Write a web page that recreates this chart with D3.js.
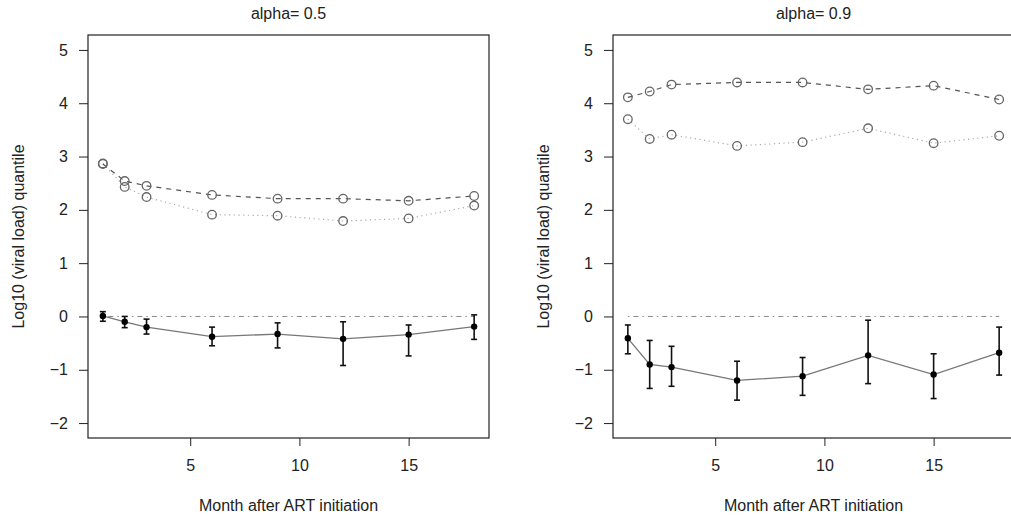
<!DOCTYPE html>
<html>
<head>
<meta charset="utf-8">
<script src="https://cdn.jsdelivr.net/npm/d3@7"></script>
<style>
  body { margin: 0; background: #fff; }
  text { font-family: "Liberation Sans", Arial, sans-serif; }
</style>
</head>
<body>
<div id="chart"></div>
<script>
// months after ART initiation
var months = [1, 2, 3, 6, 9, 12, 15, 18];
var xTicks = [5, 10, 15];
var yTicks = [-2, -1, 0, 1, 2, 3, 4, 5];
var titles = ["alpha= 0.5", "alpha= 0.9"];

// alpha = 0.5
var a5Dashed = [2.86, 2.54, 2.45, 2.28, 2.21, 2.21, 2.17, 2.26];
var a5Dotted = [2.87, 2.43, 2.24, 1.91, 1.89, 1.79, 1.84, 2.08];
var a5Est = [0.01, -0.10, -0.20, -0.38, -0.33, -0.42, -0.34, -0.19];
var a5Lo = [-0.09, -0.21, -0.33, -0.55, -0.59, -0.92, -0.74, -0.43];
var a5Hi = [0.09, 0.00, -0.05, -0.20, -0.12, -0.10, -0.16, 0.03];

// alpha = 0.9
var a9Dashed = [4.11, 4.22, 4.35, 4.39, 4.39, 4.26, 4.33, 4.07];
var a9Dotted = [3.70, 3.33, 3.41, 3.20, 3.27, 3.53, 3.25, 3.39];
var a9Est = [-0.41, -0.90, -0.95, -1.20, -1.12, -0.73, -1.09, -0.68];
var a9Lo = [-0.70, -1.35, -1.31, -1.57, -1.48, -1.26, -1.54, -1.10];
var a9Hi = [-0.16, -0.45, -0.56, -0.84, -0.77, -0.07, -0.70, -0.20];

var panels = [
    {title: titles[0], dashed: a5Dashed, dotted: a5Dotted, est: a5Est, lo: a5Lo, hi: a5Hi},
    {title: titles[1], dashed: a9Dashed, dotted: a9Dotted, est: a9Est, lo: a9Lo, hi: a9Hi}
];

var W = 1011, H = 523;
var plotW = 401, plotH = 403;
var plotTop = 35;
var lefts = [88, 613];

var svg = d3.select("#chart")
    .append("svg")
    .attr("width", W)
    .attr("height", H);

// x range padded like R (4% each side)
var x = d3.scaleLinear()
    .domain([1 - 0.68, 18 + 0.68])
    .range([0, plotW]);
var y = d3.scaleLinear()
    .domain([-2 - 0.28, 5 + 0.28])
    .range([plotH, 0]);

panels.forEach(function(p, i) {
    var g = svg.append("g")
        .attr("transform", "translate(" + lefts[i] + "," + plotTop + ")");

    var pts = months.map(function(m, j) {
        return {m: m, dashed: p.dashed[j], dotted: p.dotted[j], est: p.est[j], lo: p.lo[j], hi: p.hi[j]};
    });

    // x axis
    var xa = g.append("g")
        .attr("transform", "translate(0," + plotH + ")")
        .call(d3.axisBottom(x).tickValues(xTicks).tickSize(8).tickPadding(14).tickFormat(d3.format("d")));
    xa.select(".domain").remove();

    // y axis
    var ya = g.append("g")
        .call(d3.axisLeft(y).tickValues(yTicks).tickSize(9).tickPadding(11).tickFormat(d3.format("d")));
    ya.select(".domain").remove();

    g.selectAll(".tick line").attr("stroke", "#222");
    g.selectAll(".tick text")
        .attr("font-size", 16)
        .attr("fill", "#222")
        .style("font-family", "'Liberation Sans', Arial, sans-serif");
    xa.selectAll(".tick text").attr("dy", "0.71em");

    // box
    g.append("rect")
        .attr("x", 0).attr("y", 0)
        .attr("width", plotW).attr("height", plotH)
        .attr("fill", "none")
        .attr("stroke", "#222")
        .attr("stroke-width", 1.2);

    // reference line at zero
    g.append("line")
        .attr("x1", x(months[0])).attr("x2", x(months[months.length - 1]))
        .attr("y1", y(0)).attr("y2", y(0))
        .attr("stroke", "#888")
        .attr("stroke-width", 1)
        .attr("stroke-dasharray", "1.5,4,5,4");

    // dotted quantile line
    g.append("path")
        .datum(pts)
        .attr("d", d3.line().x(d => x(d.m)).y(d => y(d.dotted)))
        .attr("fill", "none")
        .attr("stroke", "#aaa")
        .attr("stroke-width", 1.2)
        .attr("stroke-dasharray", "1.2,3.5");

    // dashed quantile line
    g.append("path")
        .datum(pts)
        .attr("d", d3.line().x(d => x(d.m)).y(d => y(d.dashed)))
        .attr("fill", "none")
        .attr("stroke", "#555")
        .attr("stroke-width", 1.2)
        .attr("stroke-dasharray", "5,5");

    // open circles
    ["dotted", "dashed"].forEach(function(k) {
        g.selectAll(".c-" + k)
            .data(pts)
            .enter().append("circle")
            .attr("cx", d => x(d.m))
            .attr("cy", d => y(d[k]))
            .attr("r", 4.3)
            .attr("fill", "white")
            .attr("fill-opacity", 0)
            .attr("stroke", "#666")
            .attr("stroke-width", 1.3);
    });

    // estimate line
    g.append("path")
        .datum(pts)
        .attr("d", d3.line().x(d => x(d.m)).y(d => y(d.est)))
        .attr("fill", "none")
        .attr("stroke", "#777")
        .attr("stroke-width", 1.3);

    // error bars
    var eb = g.selectAll(".eb")
        .data(pts)
        .enter().append("g")
        .attr("class", "eb")
        .attr("stroke", "#111")
        .attr("stroke-width", 1.6);
    eb.append("line")
        .attr("x1", d => x(d.m)).attr("x2", d => x(d.m))
        .attr("y1", d => y(d.lo)).attr("y2", d => y(d.hi));
    eb.append("line")
        .attr("x1", d => x(d.m) - 3).attr("x2", d => x(d.m) + 3)
        .attr("y1", d => y(d.lo)).attr("y2", d => y(d.lo));
    eb.append("line")
        .attr("x1", d => x(d.m) - 3).attr("x2", d => x(d.m) + 3)
        .attr("y1", d => y(d.hi)).attr("y2", d => y(d.hi));

    g.selectAll(".pt")
        .data(pts)
        .enter().append("circle")
        .attr("cx", d => x(d.m))
        .attr("cy", d => y(d.est))
        .attr("r", 3.2)
        .attr("fill", "#000");

    // title and axis labels
    g.append("text")
        .attr("x", plotW / 2)
        .attr("y", -16)
        .attr("text-anchor", "middle")
        .attr("font-size", 16)
        .attr("fill", "#222")
        .text(p.title);

    g.append("text")
        .attr("x", plotW / 2)
        .attr("y", plotH + 73)
        .attr("text-anchor", "middle")
        .attr("font-size", 16)
        .attr("fill", "#222")
        .text("Month after ART initiation");

    g.append("text")
        .attr("transform", "translate(-64," + (plotH / 2) + ")rotate(-90)")
        .attr("text-anchor", "middle")
        .attr("font-size", 16)
        .attr("fill", "#222")
        .text("Log10 (viral load) quantile");
});
</script>
</body>
</html>
